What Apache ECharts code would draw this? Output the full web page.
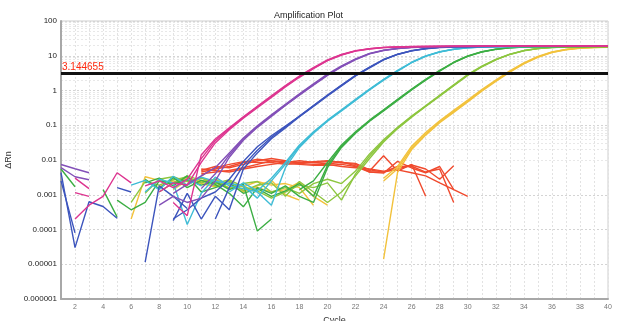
<!DOCTYPE html>
<html><head><meta charset="utf-8">
<script src="https://cdn.jsdelivr.net/npm/echarts@6/dist/echarts.min.js"></script>
<style>html,body{margin:0;padding:0;background:#fff}#c{width:617px;height:321px}</style>
</head><body><div id="c"></div>
<script>
// ---- DATA ----
const cycles = [1,2,3,4,5,6,7,8,9,10,11,12,13,14,15,16,17,18,19,20,21,22,23,24,25,26,27,28,29,30,31,32,33,34,35,36,37,38,39,40];
const yTickLabels = ['0.000001','0.00001','0.0001','0.001','0.01','0.1','1','10','100'];
const threshold = 3.144655;
const thresholdLabel = '3.144655';

const magenta1 = [null,0.00115,0.0009,null,null,null,0.0018,0.0025,0.0016,0.0028, 0.011,0.036,0.080,0.17,0.34,0.67,1.33,2.52,4.4,7.4, 10.7,13.8,15.9,17.3,17.9,18.3,18.5,18.6,18.7,18.7, 18.8,18.8,18.9,18.9,18.9,19.0,19.0,19.0,19.0,19.0];
const magenta2 = [null,0.003,0.0015,null,null,null,null,0.0012,0.0022,0.0019, 0.0085,0.031,0.074,0.16,0.32,0.63,1.26,2.40,4.25,7.2, 10.5,13.6,15.7,17.1,17.8,18.2,18.4,18.5,18.6,18.6, 18.7,18.7,18.8,18.8,18.8,18.9,18.9,18.9,18.9,18.9];
const magenta3 = [null,0.0002,0.0005,0.0009,0.0043,0.0022,null,null,0.0006,0.00025, 0.014,0.040,0.085,0.175,0.35,0.70,1.38,2.62,4.55,7.6, 10.9,14.0,16.0,17.4,18.0,18.4,18.6,18.7,18.8,18.8, 18.9,18.9,19.0,19.0,19.0,19.1,19.1,19.1,19.1,19.1];

const purple1 = [0.0074,0.0056,0.0043,null,null,null,null,null,null,null, 0.0015,0.004,0.014,0.040,0.091,0.19,0.38,0.76,1.48,2.82, 4.9,7.9,11.5,14.3,16.2,17.4,18.0,18.3,18.5,18.6, 18.7,18.7,18.8,18.8,18.8,18.9,18.9,18.9,18.9,18.9];
const purple2 = [0.006,0.0033,0.0027,null,null,null,null,null,0.0011,0.002, 0.0035,0.006,0.016,0.043,0.096,0.20,0.40,0.80,1.55,2.95, 5.1,8.1,11.7,14.5,16.3,17.5,18.1,18.4,18.6,18.7, 18.8,18.8,18.9,18.9,18.9,19.0,19.0,19.0,19.0,19.0];
const purple3 = [null,null,null,null,null,null,null,0.0005,0.0009,0.0006, 0.0008,0.0025,0.012,0.037,0.087,0.18,0.37,0.73,1.43,2.72, 4.75,7.7,11.3,14.1,16.0,17.3,17.9,18.2,18.4,18.5, 18.6,18.6,18.7,18.7,18.7,18.8,18.8,18.8,18.8,18.8];

const blue1 = [0.0043,0.00003,0.00063,0.00046,0.00021,null,null,null,0.0002,0.00037, 0.0008,0.0012,0.0028,0.009,0.024,0.05,0.095,0.18,0.36,0.72, 1.40,2.69,4.6,7.7,11.0,13.9,16.0,17.4,18.0,18.3, 18.5,18.6,18.7,18.7,18.8,18.8,18.8,18.9,18.9,18.9];
const blue2 = [0.0025,0.00008,null,null,null,null,0.0000115,0.0018,0.0009,0.0004, null,0.0002,0.0016,0.007,0.019,0.045,0.09,0.185,0.37,0.74, 1.44,2.75,4.7,7.8,11.1,14.0,16.1,17.5,18.1,18.4, 18.6,18.7,18.8,18.8,18.9,18.9,18.9,19.0,19.0,19.0];
const blue3 = [null,null,null,null,0.0016,0.0012,null,null,0.00018,0.0011, 0.0002,0.0009,0.00037,0.0055,0.016,0.041,0.084,0.175,0.35,0.70, 1.36,2.62,4.5,7.6,10.9,13.8,15.9,17.3,17.9,18.2, 18.4,18.5,18.6,18.6,18.7,18.7,18.7,18.8,18.8,18.8];

const cyan1 = [null,null,null,null,null,0.0019,0.0026,0.0014,0.0034,0.0019, 0.0032,0.0024,0.0021,0.0018,0.0008,0.0025,0.0075,0.025,0.062,0.135, 0.27,0.54,1.07,2.04,3.7,6.4,9.8,12.9,15.4,17.0, 17.8,18.2,18.4,18.5,18.6,18.6,18.7,18.7,18.7,18.8];
const cyan2 = [null,null,null,null,null,null,0.0012,0.0028,0.0022,0.00014, 0.0011,0.0032,0.0018,0.0015,0.0012,0.0005,0.006,0.023,0.059,0.13, 0.26,0.52,1.04,1.98,3.6,6.3,9.6,12.8,15.3,16.9, 17.7,18.1,18.3,18.4,18.5,18.5,18.6,18.6,18.6,18.7];
const cyan3 = [null,null,null,null,null,null,null,null,0.0015,0.0028, 0.0018,null,0.0012,0.0022,0.0013,0.0030,0.0085,0.027,0.065,0.14, 0.28,0.56,1.1,2.1,3.8,6.5,9.9,13.0,15.5,17.1, 17.9,18.3,18.5,18.6,18.7,18.7,18.8,18.8,18.8,18.9];

const green1 = [0.0055,0.0017,null,0.0014,0.00023,null,0.0022,0.0030,0.0018,0.0035, 0.0012,0.0016,0.0022,0.0011,0.0015,0.0009,0.0013,0.0021,0.0009,0.007, 0.025,0.062,0.135,0.27,0.54,1.07,2.04,3.7,6.4,9.8, 12.9,15.4,17.0,17.8,18.2,18.4,18.5,18.5,18.6,18.6];
const green2 = [null,null,null,null,0.0007,0.00037,0.0006,0.0025,0.0021,0.0027, 0.0019,0.0024,0.0014,0.0020,0.00009,0.0002,null,0.0014,0.0025,0.0085, 0.027,0.065,0.14,0.28,0.56,1.1,2.1,3.8,6.5,9.9, 13.0,15.5,17.1,17.9,18.3,18.5,18.6,18.6,18.7,18.7];
const green3 = [null,null,null,null,null,null,0.0028,0.0015,0.0031,0.0016, 0.0026,0.0020,0.0011,0.00045,0.0016,0.0011,0.0018,0.0009,0.0006,0.006, 0.023,0.059,0.13,0.26,0.52,1.04,1.98,3.6,6.3,9.6, 12.8,15.3,16.9,17.7,18.1,18.3,18.4,18.4,18.5,18.5];

const lime1 = [null,null,null,null,null,null,0.0011,0.0028,0.0033,0.0024, 0.0030,0.0021,0.0027,0.0017,0.0013,0.0008,0.0012,0.0019,0.0016,0.0022, 0.0007,0.004,0.013,0.036,0.085,0.178,0.355,0.71,1.41,2.8, 4.9,7.7,11.0,14.0,16.1,17.3,18.0,18.2,18.3,18.4];
const lime2 = [null,null,null,null,null,0.0006,0.0024,0.0019,0.0027,0.0032, 0.0022,0.0028,0.0015,0.0021,0.0024,0.0012,0.0016,0.0011,0.0021,0.0028, 0.0021,0.0048,0.015,0.038,0.088,0.185,0.365,0.73,1.45,2.88, 5.0,7.8,11.1,14.1,16.2,17.4,18.0,18.3,18.4,18.5];
const lime3 = [null,null,null,null,null,null,null,0.0012,0.0022,0.0035, 0.0026,0.0018,0.0025,0.0013,0.0019,0.0022,0.0009,0.0024,0.0012,0.0006, 0.0012,0.0035,0.011,0.033,0.080,0.17,0.345,0.69,1.37,2.72, 4.75,7.6,10.9,13.9,16.0,17.2,17.9,18.1,18.2,18.3];

const yellow1 = [null,null,null,null,null,0.0002,0.0033,0.0026,0.0021,0.0030, 0.0024,0.0028,0.0020,0.0017,0.0024,0.0019,0.0021,0.0016,0.0005,null, null,null,null,0.0025,0.0056,0.022,0.056,0.126,0.25,0.50, 1.0,1.91,3.5,6.0,9.3,12.6,15.1,16.6,17.3,17.7];
const yellow2 = [null,null,null,null,null,null,null,0.0017,0.0025,0.0019, 0.0031,0.0023,0.0016,0.0014,0.0016,0.0012,0.0014,0.0023,0.0009,0.0005, null,null,null,0.000014,0.0045,0.020,0.052,0.118,0.235,0.47, 0.95,1.82,3.35,5.8,9.0,12.3,14.9,16.4,17.2,17.6];
const yellow3 = [null,null,null,null,null,null,null,null,0.0014,0.0026, 0.0021,0.0017,0.0025,0.0012,0.0018,0.0026,0.0010,0.0007,null,null, null,null,null,0.003,0.0065,0.025,0.062,0.135,0.27,0.53, 1.06,2.0,3.65,6.2,9.6,12.9,15.3,16.8,17.5,17.9];

const red1 = [null,null,null,null,null,null,null,null,null,null, 0.0045,0.0055,0.0065,0.0085,0.0105,0.0095,0.009,0.0085,0.0085,0.009, 0.0088,0.0068,0.0048,0.0133,0.0048,0.0075,0.0009,null,null,null, null,null,null,null,null,null,null,null,null,null];
const red2 = [null,null,null,null,null,null,null,null,null,null, 0.0035,0.006,0.0075,0.009,0.0085,0.0085,0.0075,0.008,0.009,0.0095, 0.0085,0.0075,0.0045,0.0042,0.0092,0.0059,0.0043,0.0065,0.0014,null, null,null,null,null,null,null,null,null,null,null];
const red3 = [null,null,null,null,null,null,null,null,null,null, 0.004,0.0045,0.005,0.006,0.0075,0.0095,0.008,0.0075,0.007,0.007, 0.0075,0.0065,0.0045,0.0045,0.0055,0.0072,0.0055,0.0028,0.0068,null, null,null,null,null,null,null,null,null,null,null];
const red4 = [null,null,null,null,null,null,null,null,null,null, 0.005,0.0065,0.006,0.0075,0.0095,0.011,0.0095,0.008,0.0075,0.0075, 0.0065,0.006,0.0055,0.0048,0.0052,0.0043,0.0035,0.0022,0.0014,0.0009, null,null,null,null,null,null,null,null,null,null];
const red5 = [null,null,null,null,null,null,null,null,null,null, 0.0055,0.005,0.0045,0.0055,0.0065,0.0075,0.0085,0.0095,0.0085,0.0078, 0.0085,0.008,0.0052,0.0045,0.0065,0.0066,0.0045,0.0055,0.0006,null, null,null,null,null,null,null,null,null,null,null];

// ---- STYLE ----
const groups = [
  {color:'#f04a2e', list:[red1,red2,red3,red4,red5]},
  {color:'#f2c23c', list:[yellow1,yellow2,yellow3]},
  {color:'#8dc63f', list:[lime1,lime2,lime3]},
  {color:'#3cae44', list:[green1,green2,green3]},
  {color:'#3fbcd6', list:[cyan1,cyan2,cyan3]},
  {color:'#3d55bd', list:[blue1,blue2,blue3]},
  {color:'#8350b8', list:[purple1,purple2,purple3]},
  {color:'#dd3590', list:[magenta1,magenta2,magenta3]}
];

const minorLines = [];
for (let e = -6; e <= 1; e++) {
  for (let k = 2; k <= 9; k++) minorLines.push({yAxis: k * Math.pow(10, e)});
}

const series = [{
  type:'line', data:[], silent:true, z:0,
  markLine:{silent:true, z:0, symbol:'none', animation:false, label:{show:false},
    lineStyle:{color:'#e8e8e8', type:[2,2], width:1}, data:minorLines}
}];
groups.forEach(g => g.list.forEach(arr => {
  series.push({type:'line', showSymbol:false, z:3, connectNulls:false, animation:false,
    lineStyle:{color:g.color, width:1.4}, itemStyle:{color:g.color},
    data: cycles.map((c,i) => [c, arr[i]])});
}));
series.push({
  type:'line', data:[], z:6, silent:true,
  markLine:{silent:true, z:6, symbol:'none', animation:false,
    lineStyle:{color:'#111', width:3, type:'solid'},
    label:{show:true, position:'insideStartTop', formatter:thresholdLabel, color:'#ff2a10',
      fontSize:10, fontFamily:"'Liberation Sans Narrow', 'Liberation Sans', sans-serif", distance:[1,1]},
    data:[{yAxis:threshold}]}
});

const chart = echarts.init(document.getElementById('c'), null, {renderer:'canvas'});
chart.setOption({
  animation:false,
  backgroundColor:'#fff',
  title:{text:'Amplification Plot', left:'center', top:6,
    textStyle:{fontSize:9, fontWeight:'normal', color:'#222', fontFamily:'Liberation Sans'}},
  grid:{left:61, right:9, top:21, bottom:22, show:true, borderColor:'#cfcfcf', borderWidth:1,
    containLabel:false, outerBoundsMode:'none'},
  xAxis:{type:'value', min:1, max:40, interval:1,
    name:'Cycle', nameLocation:'middle', nameGap:13,
    nameTextStyle:{fontSize:9, color:'#333', fontFamily:'Liberation Sans'},
    axisLine:{onZero:false, lineStyle:{color:'#a8a8a8', width:2}},
    axisTick:{show:false},
    axisLabel:{fontSize:7, color:'#777', margin:5, fontFamily:'Liberation Sans',
      formatter:v => (v % 2 === 0 ? String(v) : '')},
    splitLine:{show:true, lineStyle:{color:'#e2e2e2', type:[2,2]}}},
  yAxis:{type:'log', logBase:10, min:0.000001, max:100,
    name:'ΔRn', nameLocation:'middle', nameGap:44, nameRotate:90,
    nameTextStyle:{fontSize:9, color:'#333', fontFamily:'Liberation Sans'},
    axisLine:{show:true, lineStyle:{color:'#a8a8a8', width:2}},
    axisTick:{show:false},
    axisLabel:{fontSize:8, color:'#222', margin:4, fontFamily:'Liberation Sans',
      formatter:v => yTickLabels[Math.round(Math.log10(v)) + 6]},
    splitLine:{show:true, lineStyle:{color:'#d4d4d4', type:[2,2]}}},
  series: series
});
</script></body></html>
